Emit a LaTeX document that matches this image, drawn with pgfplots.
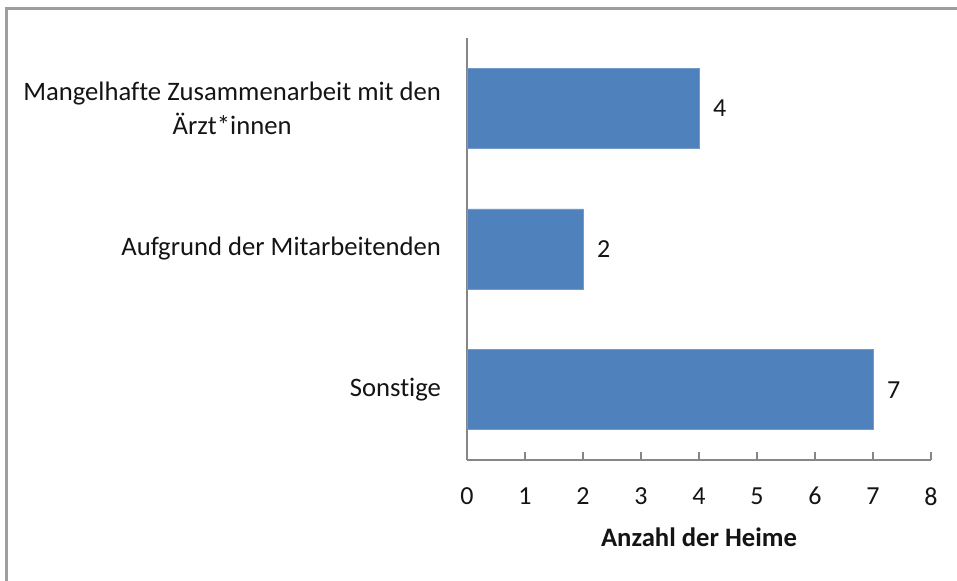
\documentclass[border=0pt]{standalone}
\usepackage{pgfplots}
\pgfplotsset{compat=1.18}
\usepackage{fontspec}
\setmainfont{Carlito}[Ligatures={NoCommon}]
\definecolor{barblue}{RGB}{79,129,189}
\definecolor{axgray}{RGB}{134,134,134}
\definecolor{txt}{RGB}{20,20,20}
\begin{document}
\begin{tikzpicture}
\useasboundingbox (0pt,0pt) rectangle (717.75pt,435.75pt);
\draw[color=axgray!80, line width=1.6pt] (4.9pt,0pt) -- (4.9pt,429.4pt) -- (717.75pt,429.4pt);
\begin{axis}[
  at={(350.25pt,90.75pt)}, anchor=south west,
  scale only axis, width=348pt, height=316.5pt,
  xbar, bar width=60pt,
  xmin=0, xmax=8, ymin=0.5, ymax=3.5,
  axis x line*=bottom, axis y line*=left,
  axis line style={draw=axgray, line width=1.2pt, -},
  xtick={0,...,8}, ytick={1,2,3},
  yticklabels={Sonstige, Aufgrund der Mitarbeitenden, {Mangelhafte Zusammenarbeit mit den\\Ärzt*innen}},
  y tick style={draw=none},
  x tick style={draw=axgray, line width=1.2pt},
  tickwidth=6pt, xtick align=inside,
  /pgf/number format/assume math mode=true,
  tick label style={font=\fontsize{19.5}{25.5}\selectfont, text=txt},
  yticklabel style={align=center, xshift=-10pt, font=\fontsize{20}{25.5}\selectfont},
  xticklabel style={yshift=-17pt},
  xlabel={\textbf{Anzahl der Heime}},
  xlabel style={font=\fontsize{20}{23}\selectfont, text=txt, yshift=-10pt},
  nodes near coords,
  every node near coord/.append style={font=\fontsize{19.5}{23}\selectfont, text=txt, anchor=west, xshift=7pt},
]
\addplot[fill=barblue, draw=barblue!80!white, line width=0.6pt] coordinates {(7,1) (2,2) (4,3)};
\end{axis}
\end{tikzpicture}
\end{document}
